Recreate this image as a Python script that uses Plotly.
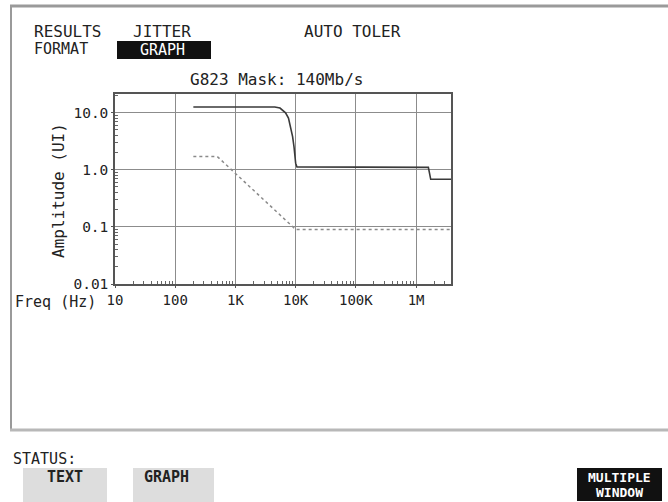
import plotly.graph_objects as go

# measured jitter tolerance (solid) and G.823 140Mb/s mask (dashed)
tol_freq = [200, 1000, 4500, 5500, 6800, 7600, 8300, 8900, 9400, 9800, 10000, 10500,
            100000, 1000000, 1600000, 1750000, 3800000]
tol_amp = [12.5, 12.5, 12.5, 12.0, 9.9, 8.0, 5.5, 3.8, 2.5, 1.6, 1.3, 1.12,
           1.12, 1.12, 1.1, 0.68, 0.68]
mask_freq = [200, 500, 10000, 3800000]
mask_amp = [1.7, 1.7, 0.09, 0.09]

x_ticks = [10, 100, 1000, 10000, 100000, 1000000]
x_labels = ["10", "100", "1K", "10K", "100K", "1M"]
y_ticks = [0.01, 0.1, 1, 10]
y_labels = ["0.01", "0.1", "1.0", "10.0"]

W, H = 668, 502
L, R, T, B = 115, 451, 94, 284
FONT = "DejaVu Sans Mono"
INK = "#222222"


def px(x):
    return (x - L) / (R - L)


def py(y):
    return (B - y) / (B - T)


minor_x = [m * 10 ** e for e in range(1, 7) for m in range(2, 10) if m * 10 ** e < 3.8e6]
minor_y = [m * 10 ** e for e in range(-2, 2) for m in range(2, 10) if m * 10 ** e < 21]

fig = go.Figure()
fig.add_trace(go.Scatter(
    x=mask_freq, y=mask_amp, mode="lines",
    line=dict(color="#8a8a8a", width=1.5, dash="3px,3px"), showlegend=False,
))
fig.add_trace(go.Scatter(
    x=tol_freq, y=tol_amp, mode="lines",
    line=dict(color="#3a3a3a", width=1.6), showlegend=False,
))

axis_common = dict(
    showline=True, mirror=True, linecolor="#555", linewidth=1.5,
    showgrid=True, gridcolor="#8c8c8c", gridwidth=1,
    ticks="outside", ticklen=2, tickcolor="#555",
    zeroline=False,
)
fig.update_xaxes(
    type="log", range=[1, 6.58], tickmode="array", tickvals=x_ticks, ticktext=x_labels,
    tickfont=dict(family=FONT, size=14, color=INK),
    minor=dict(tickmode="array", tickvals=minor_x, ticks="inside", ticklen=3,
               tickcolor="#666", showgrid=False),
    **axis_common,
)
fig.update_yaxes(
    type="log", range=[-2, 1.325], tickmode="array", tickvals=y_ticks, ticktext=y_labels,
    tickfont=dict(family=FONT, size=14.5, color=INK),
    minor=dict(tickmode="array", tickvals=minor_y, ticks="inside", ticklen=3,
               tickcolor="#666", showgrid=False),
    **axis_common,
)


def label(text, x, y, size=15, color=INK, xanchor="left", angle=0, bold=False):
    fig.add_annotation(
        text=text, x=px(x), y=py(y), xref="paper", yref="paper",
        xanchor=xanchor, yanchor="middle", showarrow=False, textangle=angle,
        font=dict(family=FONT, size=size, color=color,
                  weight="bold" if bold else "normal"),
    )


# screen frame
for x0, y0, x1, y1, w, c in [
    (10, 6, W, 6, 3, "#9a9a9a"),
    (11, 6, 11, 430, 2, "#9a9a9a"),
    (10, 430, W, 430, 3, "#b8b8b8"),
]:
    fig.add_shape(type="line", xref="paper", yref="paper",
                  x0=px(x0), y0=py(y0), x1=px(x1), y1=py(y1),
                  line=dict(color=c, width=w))

# highlighted GRAPH field and softkeys
for x0, y0, x1, y1, c in [
    (117, 41, 211, 59, "#111111"),
    (23, 468, 107, 502, "#dddddd"),
    (133, 468, 214, 502, "#dddddd"),
    (577, 468, 662, 501, "#111111"),
]:
    fig.add_shape(type="rect", xref="paper", yref="paper", layer="below",
                  x0=px(x0), y0=py(y0), x1=px(x1), y1=py(y1),
                  line=dict(width=0), fillcolor=c)

label("RESULTS", 32, 31, size=16)
label("JITTER", 131, 31, size=16)
label("AUTO TOLER", 302, 31, size=16)
label("FORMAT", 32, 49)
label("GRAPH", 138, 50, color="white")
label("G823 Mask: 140Mb/s", 276, 79, size=16, xanchor="center")
label("Amplitude (UI)", 58, 191, size=16, xanchor="center", angle=-90)
label("Freq (Hz)", 13, 302)
label("STATUS:", 11, 459)
label("TEXT", 65, 477, xanchor="center", bold=True)
label("GRAPH", 166, 477, xanchor="center", bold=True)
label("MULTIPLE", 619, 477, size=13, color="white", xanchor="center", bold=True)
label("WINDOW", 619, 492, size=13, color="white", xanchor="center", bold=True)

fig.update_layout(
    width=W, height=H, autosize=False,
    margin=dict(l=L, r=W - R, t=T, b=H - B),
    paper_bgcolor="white", plot_bgcolor="white",
)
fig.write_html("out.html", config={"displayModeBar": False},
               post_script="document.body.style.margin='0px';")
